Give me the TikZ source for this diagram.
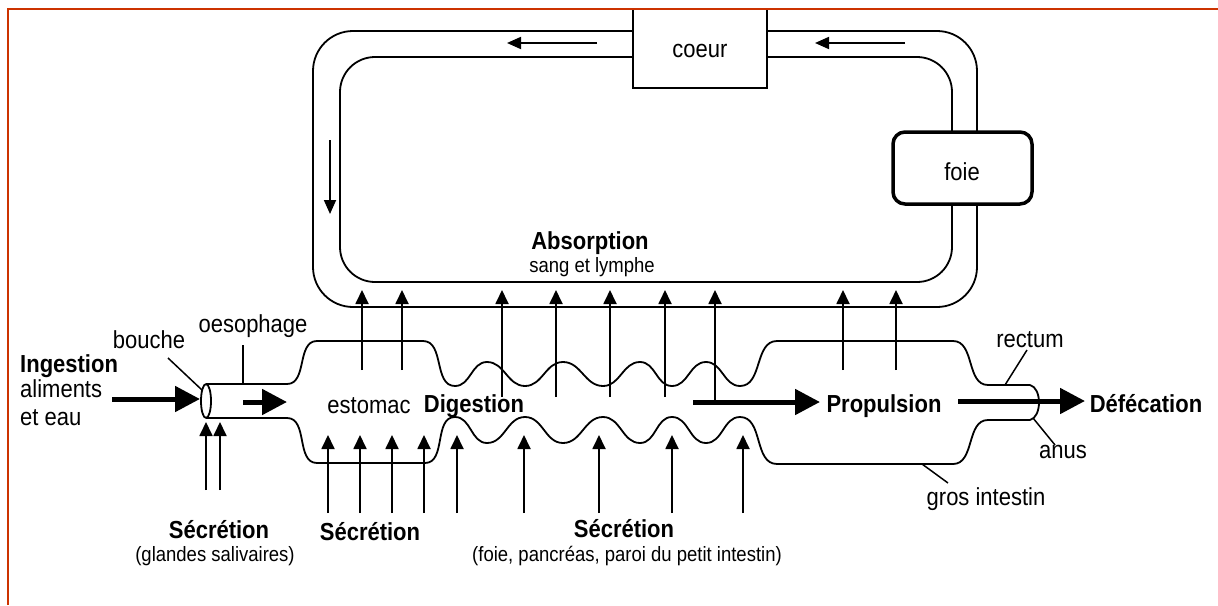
\documentclass[tikz,border=0pt]{standalone}
\usepackage{fontspec}
\usepackage{graphicx}
\setmainfont{Liberation Sans}
\usetikzlibrary{arrows.meta}
\definecolor{framecol}{RGB}{204,51,0}
\newcommand{\tallt}[1]{\scalebox{1}[1.12]{#1}}
\begin{document}
\begin{tikzpicture}[x=1pt,y=-1pt,
  tube/.style={line width=1.8pt, line join=round},
  thinarrow/.style={line width=1.8pt,-{Triangle[length=14pt,width=13pt]}},
  thickarrow/.style={line width=5pt,-{Triangle[length=25pt,width=25pt]}},
  pipearrow/.style={line width=1.8pt,-{Triangle[length=14pt,width=12pt]}},
  leader/.style={line width=1.5pt},
  lbl/.style={inner sep=0pt, anchor=base, font=\fontsize{22}{26}\selectfont},
  blbl/.style={inner sep=0pt, anchor=base, font=\fontsize{22}{26}\selectfont\bfseries},
  slbl/.style={inner sep=0pt, anchor=base, font=\fontsize{18.5}{22}\selectfont}]
\useasboundingbox (0,0) rectangle (1218,605);
\fill[white] (0,0) rectangle (1218,605);

% circulation loop
\node[draw, line width=1.8pt, minimum width=134pt, minimum height=79pt, inner sep=0pt] (coeur) at (700,48.5) {};
\node[draw, line width=3.5pt, rounded corners=12pt, minimum width=139pt, minimum height=72pt, inner sep=0pt] (foie) at (962.5,168) {};
\draw[tube, rounded corners=40pt] (633,31) -| (313,307) -| (977,204);
\draw[tube, rounded corners=40pt] (767,31) -| (977,132);
\draw[tube, rounded corners=35pt] (633,57) -| (340,282) -| (952,204);
\draw[tube, rounded corners=35pt] (767,57) -| (952,132);
\draw[pipearrow] (597,43) -- (507,43);
\draw[pipearrow] (905,43) -- (815,43);
\draw[pipearrow] (330,140) -- (330,214);

% digestive tube
\draw[tube] (206,384) -- (287,384) to[out=0,in=180] (317,341) -- (423,341)
  to[out=0,in=180] (455,386) to[out=0,in=180] (487,362) to[out=0,in=180] (525,386)
  to[out=0,in=180] (563,362) to[out=0,in=180] (603,386) to[out=0,in=180] (640,362)
  to[out=0,in=180] (672,386) to[out=0,in=180] (706,362) to[out=0,in=180] (740,386)
  to[out=0,in=180] (777,341) -- (953,341) to[out=0,in=180] (988,385) -- (1030,385);
\draw[tube] (206,418) -- (287,418) to[out=0,in=180] (317,463) -- (425,463)
  to[out=0,in=180] (455,417) to[out=0,in=180] (487,443) to[out=0,in=180] (525,417)
  to[out=0,in=180] (563,443) to[out=0,in=180] (603,417) to[out=0,in=180] (640,443)
  to[out=0,in=180] (672,417) to[out=0,in=180] (706,443) to[out=0,in=180] (740,417)
  to[out=0,in=180] (777,464) -- (953,464) to[out=0,in=180] (988,420) -- (1030,420);
\draw[tube] (1030,385) .. controls (1042,388) and (1042,417) .. (1030,420);
\draw[tube, fill=white] (206,401) ellipse [x radius=5, y radius=17];

% absorption arrows
\foreach \x/\y in {362/370, 402/370, 502/397, 556/397, 610/397, 665/397, 715/402, 843/370, 896/370}
  \draw[thinarrow] (\x,\y) -- (\x,290);
% secretion arrows
\foreach \x in {206,220} \draw[thinarrow] (\x,490) -- (\x,422);
\foreach \x in {328,360,392,424,457,524,599,672,743} \draw[thinarrow] (\x,513) -- (\x,435);

% thick arrows
\draw[thickarrow] (112,399) -- (200,399);
\draw[thickarrow] (243,402) -- (287,402);
\draw[thickarrow] (693,402) -- (820,402);
\draw[thickarrow] (958,401) -- (1085,401);

% leaders
\draw[leader] (168,358) -- (202,390);
\draw[leader] (243,345) -- (243,384);
\draw[leader] (1027,350) -- (1005,385);
\draw[leader] (1033,418) -- (1055,445);
\draw[leader] (922,464) -- (948,483);

% labels
\node[lbl] (coeurtxt) at (700,57) {\tallt{coeur}};
\node[lbl] (foietxt) at (962,180) {\tallt{foie}};
\node[blbl] (absorption) at (590,249) {\tallt{Absorption}};
\node[slbl] (sang) at (592,272) {\tallt{sang et lymphe}};
\node[lbl] (bouche) at (149,348) {\tallt{bouche}};
\node[lbl] (oeso) at (253,332) {\tallt{oesophage}};
\node[blbl, anchor=base west] (ingestion) at (20,372) {\tallt{Ingestion}};
\node[lbl, anchor=base west] (alim) at (20,397) {\tallt{aliments}};
\node[lbl, anchor=base west] (eau) at (20,425) {\tallt{et eau}};
\node[lbl] (estomac) at (369,413) {\tallt{estomac}};
\node[blbl] (digestion) at (474,412) {\tallt{Digestion}};
\node[blbl] (propulsion) at (884,412) {\tallt{Propulsion}};
\node[blbl] (defecation) at (1146,412) {\tallt{Défécation}};
\node[lbl] (rectum) at (1030,347) {\tallt{rectum}};
\node[lbl] (anus) at (1063,458) {\tallt{anus}};
\node[lbl] (gros) at (986,505) {\tallt{gros intestin}};
\node[blbl] (sec1) at (219,538) {\tallt{Sécrétion}};
\node[slbl] (sec1b) at (215,561) {\tallt{(glandes salivaires)}};
\node[blbl] (sec2) at (370,540) {\tallt{Sécrétion}};
\node[blbl] (sec3) at (624,537) {\tallt{Sécrétion}};
\node[slbl] (sec3b) at (627,561) {\tallt{(foie, pancréas, paroi du petit intestin)}};

% frame
\draw[framecol, line width=2.5pt] (8,605) -- (8,9) -- (1218,9);
\end{tikzpicture}
\end{document}
